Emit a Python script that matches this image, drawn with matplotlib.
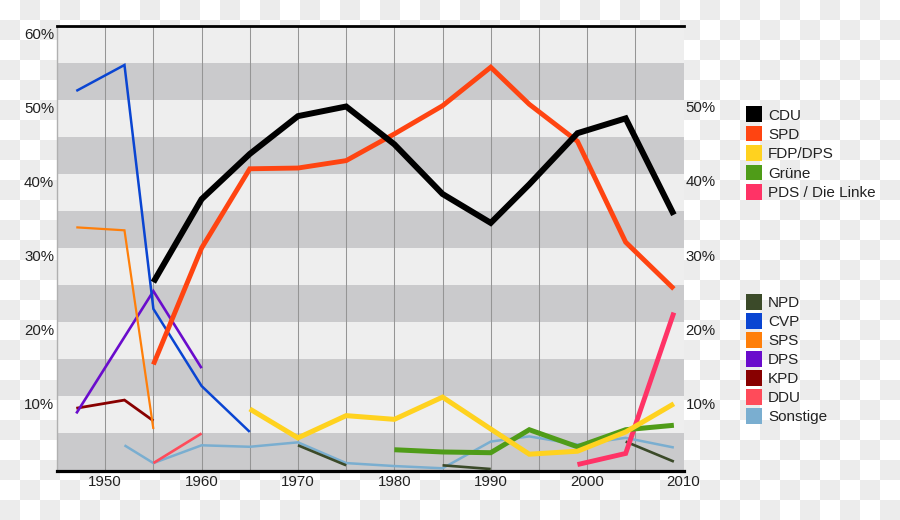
import numpy as np
import matplotlib
matplotlib.use("Agg")
import matplotlib.pyplot as plt
from matplotlib.patches import Rectangle
from matplotlib.transforms import ScaledTranslation

# ---------------- data ----------------
years_cdu = [1955, 1960, 1965, 1970, 1975, 1980, 1985, 1990, 1994, 1999, 2004, 2009]
cdu = [25.4, 36.6, 42.7, 47.8, 49.1, 44.0, 37.3, 33.4, 38.6, 45.5, 47.5, 34.5]

years_spd = [1955, 1960, 1965, 1970, 1975, 1980, 1985, 1990, 1994, 1999, 2004, 2009]
spd = [14.3, 30.0, 40.7, 40.8, 41.8, 45.4, 49.2, 54.4, 49.4, 44.4, 30.8, 24.5]

years_fdp = [1965, 1970, 1975, 1980, 1985, 1990, 1994, 1999, 2004, 2009]
fdp = [8.3, 4.4, 7.4, 6.9, 9.9, 5.6, 2.2, 2.6, 5.2, 9.0]

years_gruene = [1980, 1985, 1990, 1994, 1999, 2004, 2009]
gruene = [2.8, 2.5, 2.4, 5.5, 3.2, 5.5, 6.1]

years_pds = [1999, 2004, 2009]
pds = [0.8, 2.3, 21.3]

years_npd = [1970, 1975, 1980, 1985, 1990, 1994, 1999, 2004, 2009]
npd = [3.4, 0.7, None, 0.7, 0.2, None, None, 3.9, 1.2]

years_cvp = [1947, 1952, 1955, 1960, 1965]
cvp = [51.2, 54.7, 21.8, 11.4, 5.2]

years_sps = [1947, 1952, 1955]
sps = [32.8, 32.4, 5.6]

years_dps = [1947, 1955, 1960]
dps = [7.7, 24.2, 13.8]

years_kpd = [1947, 1952, 1955]
kpd = [8.4, 9.5, 6.7]

years_ddu = [1955, 1960]
ddu = [1.0, 5.0]

years_sonst = [1952, 1955, 1960, 1965, 1970, 1975, 1980, 1985, 1990, 1994, 1999, 2004, 2009]
sonst = [3.4, 1.0, 3.4, 3.2, 3.8, 1.0, 0.6, 0.3, 3.9, 4.6, 3.5, 4.4, 3.1]

legend1 = ["CDU", "SPD", "FDP/DPS", "Grüne", "PDS / Die Linke"]
legend2 = ["NPD", "CVP", "SPS", "DPS", "KPD", "DDU", "Sonstige"]

x_ticks = [1950, 1960, 1970, 1980, 1990, 2000, 2010]
y_left_ticks = [60, 50, 40, 30, 20, 10]
y_right_ticks = [50, 40, 30, 20, 10]

# ---------------- styles ----------------
series = [
    ("CDU", years_cdu, cdu, "#000000", 4.3),
    ("SPD", years_spd, spd, "#ff4411", 3.5),
    ("FDP/DPS", years_fdp, fdp, "#ffd21f", 3.6),
    ("Grüne", years_gruene, gruene, "#4f9c18", 3.6),
    ("PDS / Die Linke", years_pds, pds, "#ff3366", 3.5),
    ("NPD", years_npd, npd, "#3b4a29", 1.9),
    ("CVP", years_cvp, cvp, "#0a45d2", 1.8),
    ("SPS", years_sps, sps, "#ff7f0a", 1.6),
    ("DPS", years_dps, dps, "#6a0ccc", 1.9),
    ("KPD", years_kpd, kpd, "#880000", 2.0),
    ("DDU", years_ddu, ddu, "#ff4b5a", 1.9),
    ("Sonstige", years_sonst, sonst, "#7aaed0", 1.8),
]
colors = {name: c for name, _, _, c, _ in series}

W, H = 900, 520
fig = plt.figure(figsize=(W / 100, H / 100), dpi=100)
fig.patch.set_facecolor("white")

# checkerboard (transparent background of the reference)
yy, xx = np.mgrid[0:H, 0:W]
chk = ((xx // 20 + yy // 20) % 2).astype(float)
img = np.ones((H, W, 3))
img[chk == 1] = np.array([236, 236, 236]) / 255.0
fig.figimage(img, 0, 0, zorder=-10, origin="upper")

def fx(x):
    return x / W

def fy(y):
    return 1 - y / H

left, right, top, bottom = 57, 683.5, 25.7, 470.5
ax = fig.add_axes([fx(left), fy(bottom), fx(right) - fx(left), fy(top) - fy(bottom)])
ax.set_xlim(1945, 2010)
ax.set_ylim(0, 60)
ax.set_facecolor("#eeeeee")
for lo in range(0, 60, 10):
    ax.axhspan(lo, lo + 5, color="#cacacc", lw=0, zorder=0)
for yr in range(1950, 2010, 5):
    ax.axvline(yr, color="#959595", lw=0.75, zorder=1)

ax.spines["right"].set_visible(False)
ax.spines["left"].set_color("#b0b0b0")
ax.spines["left"].set_linewidth(1.0)
ax.spines["top"].set_color("black")
ax.spines["top"].set_linewidth(2.0)
ax.spines["bottom"].set_color("black")
ax.spines["bottom"].set_linewidth(2.3)

# lines: draw in reverse legend order so CDU ends on top
for i, (name, yrs, vals, c, lw) in enumerate(reversed(series)):
    v = np.array([np.nan if a is None else a for a in vals], dtype=float)
    ax.plot(yrs, v, color=c, lw=lw, solid_joinstyle="miter", solid_capstyle="butt", zorder=3 + i)

# x tick labels
ax.set_xticks(x_ticks)
ax.set_xticklabels([str(t) for t in x_ticks], family=["Liberation Sans", "DejaVu Sans"],
                   fontsize=10.8, color="#222222")
ax.tick_params(axis="x", length=0, pad=3.3)
ax.set_yticks([])

# y labels left and right
tl = ax.get_yaxis_transform() + ScaledTranslation(-3 / 100, -13 / 100, fig.dpi_scale_trans)
for v in y_left_ticks:
    ax.text(0, v, f"{v}%", transform=tl, ha="right", va="baseline", fontsize=10.8,
            family=["Liberation Sans", "DejaVu Sans"], color="#222222")
tr = ax.get_yaxis_transform() + ScaledTranslation(2 / 100, -12.5 / 100, fig.dpi_scale_trans)
for v in y_right_ticks:
    ax.text(1, v, f"{v}%", transform=tr, ha="left", va="baseline", fontsize=10.8,
            family=["Liberation Sans", "DejaVu Sans"], color="#222222")

# legends
def draw_legend(names, y0, dy):
    for k, n in enumerate(names):
        cy = y0 + k * dy
        fig.patches.append(Rectangle((fx(746), fy(cy + 7.8)), 15.5 / W, 15.6 / H,
                                     transform=fig.transFigure, color=colors[n], lw=0))
        fig.text(fx(768), fy(cy + 5.5), n, ha="left", va="baseline", fontsize=11,
                 family=["Liberation Sans", "DejaVu Sans"], color="#222222")

draw_legend(legend1, 114.3, 19.35)
draw_legend(legend2, 301.7, 19.05)

fig.savefig("out.png", dpi=100)
